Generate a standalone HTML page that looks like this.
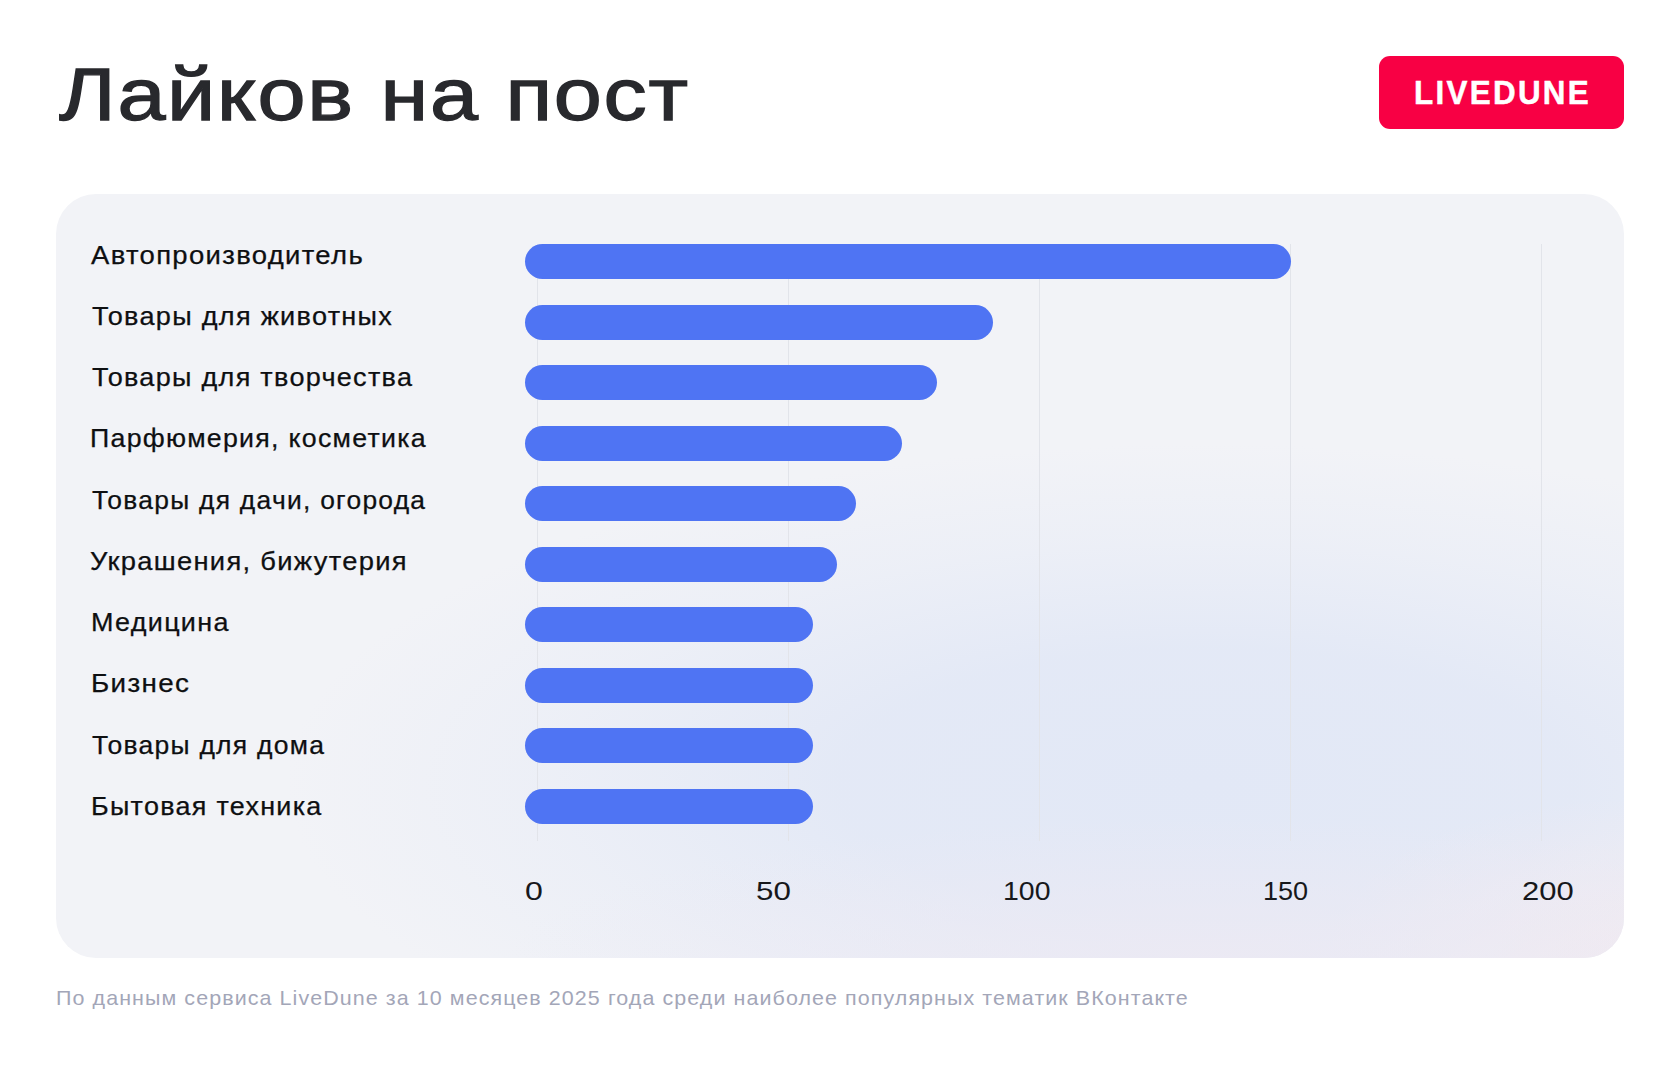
<!DOCTYPE html>
<html><head><meta charset="utf-8">
<style>
html,body{margin:0;padding:0;}
body{width:1680px;height:1068px;background:#ffffff;position:relative;overflow:hidden;font-family:"Liberation Sans",sans-serif;}
.t{position:absolute;white-space:nowrap;line-height:1;transform-origin:0 0;}
.card{position:absolute;left:56px;top:194px;width:1568px;height:764px;border-radius:40px;background:#f2f3f7;overflow:hidden;}
.g1{position:absolute;left:0;top:0;width:100%;height:100%;background:radial-gradient(ellipse 920px 340px at 1150px 590px, rgba(226,232,246,1) 0%, rgba(226,232,246,0.9) 40%, rgba(226,232,246,0.35) 72%, rgba(226,232,246,0) 100%);}
.g2{position:absolute;left:0;top:0;width:100%;height:100%;background:radial-gradient(ellipse 700px 140px at 1150px 764px, rgba(236,233,243,0.85) 0%, rgba(236,233,243,0) 100%), radial-gradient(ellipse 300px 160px at 1568px 764px, rgba(242,234,240,0.9) 0%, rgba(242,234,240,0) 100%);}
.lbl{color:#0e0f11;-webkit-text-stroke:0.25px #0e0f11;}
.bar{position:absolute;left:525px;height:35px;border-radius:17.5px;background:#4f74f3;}
.grid{position:absolute;top:244px;width:1.3px;height:597px;background:#e2e4ea;}
.ax{color:#17181b;}
</style></head>
<body>

<div class="card"><div class="g1"></div><div class="g2"></div></div>
<div class="grid" style="left:537.0px"></div>
<div class="grid" style="left:788.0px"></div>
<div class="grid" style="left:1039.0px"></div>
<div class="grid" style="left:1290.0px"></div>
<div class="grid" style="left:1541.0px"></div>
<div class="bar" style="top:244.00px;width:766.2px"></div>
<div class="bar" style="top:304.56px;width:467.9px"></div>
<div class="bar" style="top:365.12px;width:411.7px"></div>
<div class="bar" style="top:425.68px;width:376.6px"></div>
<div class="bar" style="top:486.24px;width:331.4px"></div>
<div class="bar" style="top:546.80px;width:312.0px"></div>
<div class="bar" style="top:607.36px;width:288.0px"></div>
<div class="bar" style="top:667.92px;width:288.0px"></div>
<div class="bar" style="top:728.48px;width:288.0px"></div>
<div class="bar" style="top:789.04px;width:288.0px"></div>
<div class="t" style="left:58.79695007404063px;top:57.01px;font-size:75px;color:#28292d;-webkit-text-stroke:1.3px #28292d;letter-spacing:1.5px;transform:scaleX(1.1510)">Лайков на пост</div>
<div style="position:absolute;left:1379px;top:56px;width:245px;height:73px;border-radius:11px;background:#f80044;"></div>
<div class="t" style="left:1413.8035195590267px;top:75.50px;font-size:33.9px;font-weight:bold;color:#fff;-webkit-text-stroke:0.5px #fff;letter-spacing:2.5px;transform:scaleX(0.9253)">LIVEDUNE</div>
<div class="t lbl" style="left:90.60px;top:242.74px;font-size:25.0px;letter-spacing:1.2px;transform:scaleX(1.0991)">Автопроизводитель</div>
<div class="t lbl" style="left:91.61px;top:303.98px;font-size:25.0px;letter-spacing:1.2px;transform:scaleX(1.0828)">Товары для животных</div>
<div class="t lbl" style="left:91.61px;top:365.22px;font-size:25.0px;letter-spacing:1.2px;transform:scaleX(1.0806)">Товары для творчества</div>
<div class="t lbl" style="left:90.22px;top:426.46px;font-size:25.0px;letter-spacing:1.2px;transform:scaleX(1.0695)">Парфюмерия, косметика</div>
<div class="t lbl" style="left:91.62px;top:487.70px;font-size:25.0px;letter-spacing:1.2px;transform:scaleX(1.0561)">Товары дя дачи, огорода</div>
<div class="t lbl" style="left:90.40px;top:548.94px;font-size:25.0px;letter-spacing:1.2px;transform:scaleX(1.0925)">Украшения, бижутерия</div>
<div class="t lbl" style="left:90.79px;top:610.18px;font-size:25.0px;letter-spacing:1.2px;transform:scaleX(1.0785)">Медицина</div>
<div class="t lbl" style="left:90.80px;top:671.42px;font-size:25.0px;letter-spacing:1.2px;transform:scaleX(1.1111)">Бизнес</div>
<div class="t lbl" style="left:91.62px;top:732.66px;font-size:25.0px;letter-spacing:1.2px;transform:scaleX(1.0597)">Товары для дома</div>
<div class="t lbl" style="left:90.62px;top:793.90px;font-size:25.0px;letter-spacing:1.2px;transform:scaleX(1.0770)">Бытовая техника</div>
<div class="t ax" style="left:525.35px;top:877.77px;font-size:26.5px;transform:scaleX(1.2106)">0</div>
<div class="t ax" style="left:755.93px;top:877.77px;font-size:26.5px;transform:scaleX(1.1823)">50</div>
<div class="t ax" style="left:1003.40px;top:877.77px;font-size:26.5px;transform:scaleX(1.0747)">100</div>
<div class="t ax" style="left:1263.22px;top:877.77px;font-size:26.5px;transform:scaleX(1.0215)">150</div>
<div class="t ax" style="left:1521.98px;top:877.77px;font-size:26.5px;transform:scaleX(1.1686)">200</div>
<div class="t" style="left:55.62px;top:989.14px;font-size:19.8px;color:#a3a6b8;letter-spacing:1.0px;transform:scaleX(1.0838)">По данным сервиса LiveDune за 10 месяцев 2025 года среди наиболее популярных тематик ВКонтакте</div>
</body></html>
